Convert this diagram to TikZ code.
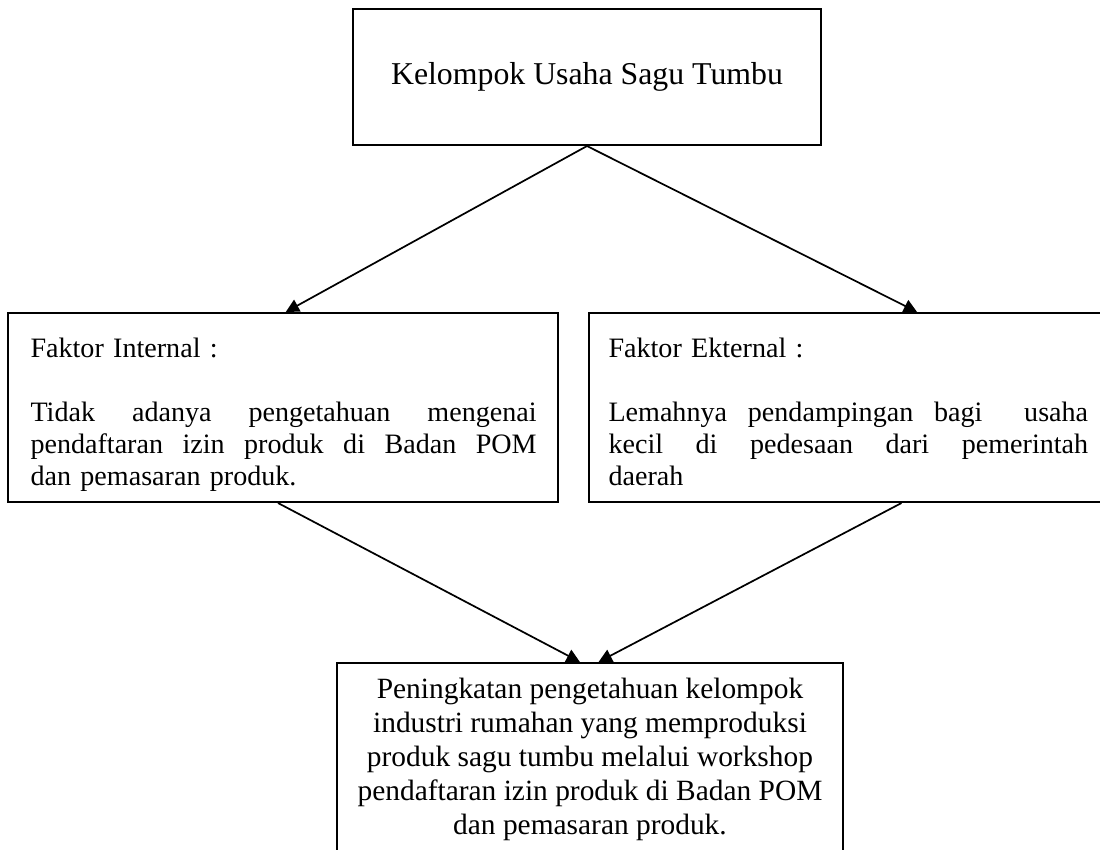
\documentclass[tikz,border=0pt]{standalone}
\usepackage{fontspec}
\setmainfont{Liberation Serif}
\usetikzlibrary{arrows.meta,calc}
\newcommand{\justline}[2]{\leavevmode\hbox to #1{#2}}
\begin{document}
\begin{tikzpicture}[x=0.3774pt,y=-0.3774pt,
  box/.style={draw, line width=0.8pt, inner sep=0pt},
  conn/.style={line width=0.65pt, -{Triangle[length=5pt,width=5pt]}},
  sidetxt/.style={inner sep=0pt, anchor=north west, align=left, font=\fontsize{10.6}{12.1}\selectfont},
  bottxt/.style={inner sep=0pt, align=center, font=\fontsize{11.1}{12.8}\selectfont}]
\useasboundingbox (0,0) rectangle (1100,849);
\node[box, minimum width=176.6pt, minimum height=51.3pt, font=\fontsize{12}{13}\selectfont] (top) at (587,77) {Kelompok Usaha Sagu Tumbu};
\node[box, minimum width=207.6pt, minimum height=71.3pt] (left) at (283,407.5) {};
\node[box, minimum width=195pt, minimum height=71.3pt] (right) at (847,407.5) {};
\node[box, minimum width=191pt, minimum height=72.5pt] (bottom) at (590,759) {};
\node[sidetxt, text width=191pt] (lefttext) at (30,337) {Faktor Internal :\\[12.1pt]
\justline{191pt}{Tidak\hfil\ adanya\hfil\ pengetahuan\hfil\ mengenai}\\
\justline{191pt}{pendaftaran\hfil\ izin\hfil\ produk\hfil\ di\hfil\ Badan\hfil\ POM}\\
dan pemasaran produk.};
\node[sidetxt, text width=181pt] (righttext) at (608,337) {Faktor Ekternal :\\[12.1pt]
\justline{181pt}{Lemahnya\hfil\ pendampingan\hfil\ bagi\hfil\ \hfil\ usaha}\\
\justline{181pt}{kecil\hfil\ di\hfil\ pedesaan\hfil\ dari\hfil\ pemerintah}\\
daerah};
\node[bottxt] (bottomtext) at (590,759.5) {Peningkatan pengetahuan kelompok\\
industri rumahan yang memproduksi\\
produk sagu tumbu melalui workshop\\
pendaftaran izin produk di Badan POM\\
dan pemasaran produk.};
\draw[conn] (top.south) -- ($(left.north west)!0.505!(left.north east)$);
\draw[conn] (top.south) -- ($(right.north west)!0.635!(right.north east)$);
\draw[conn] ($(left.south west)!0.491!(left.south east)$) -- ($(bottom.north west)!0.48!(bottom.north east)$);
\draw[conn] ($(right.south west)!0.605!(right.south east)$) -- ($(bottom.north west)!0.517!(bottom.north east)$);
\end{tikzpicture}
\end{document}
